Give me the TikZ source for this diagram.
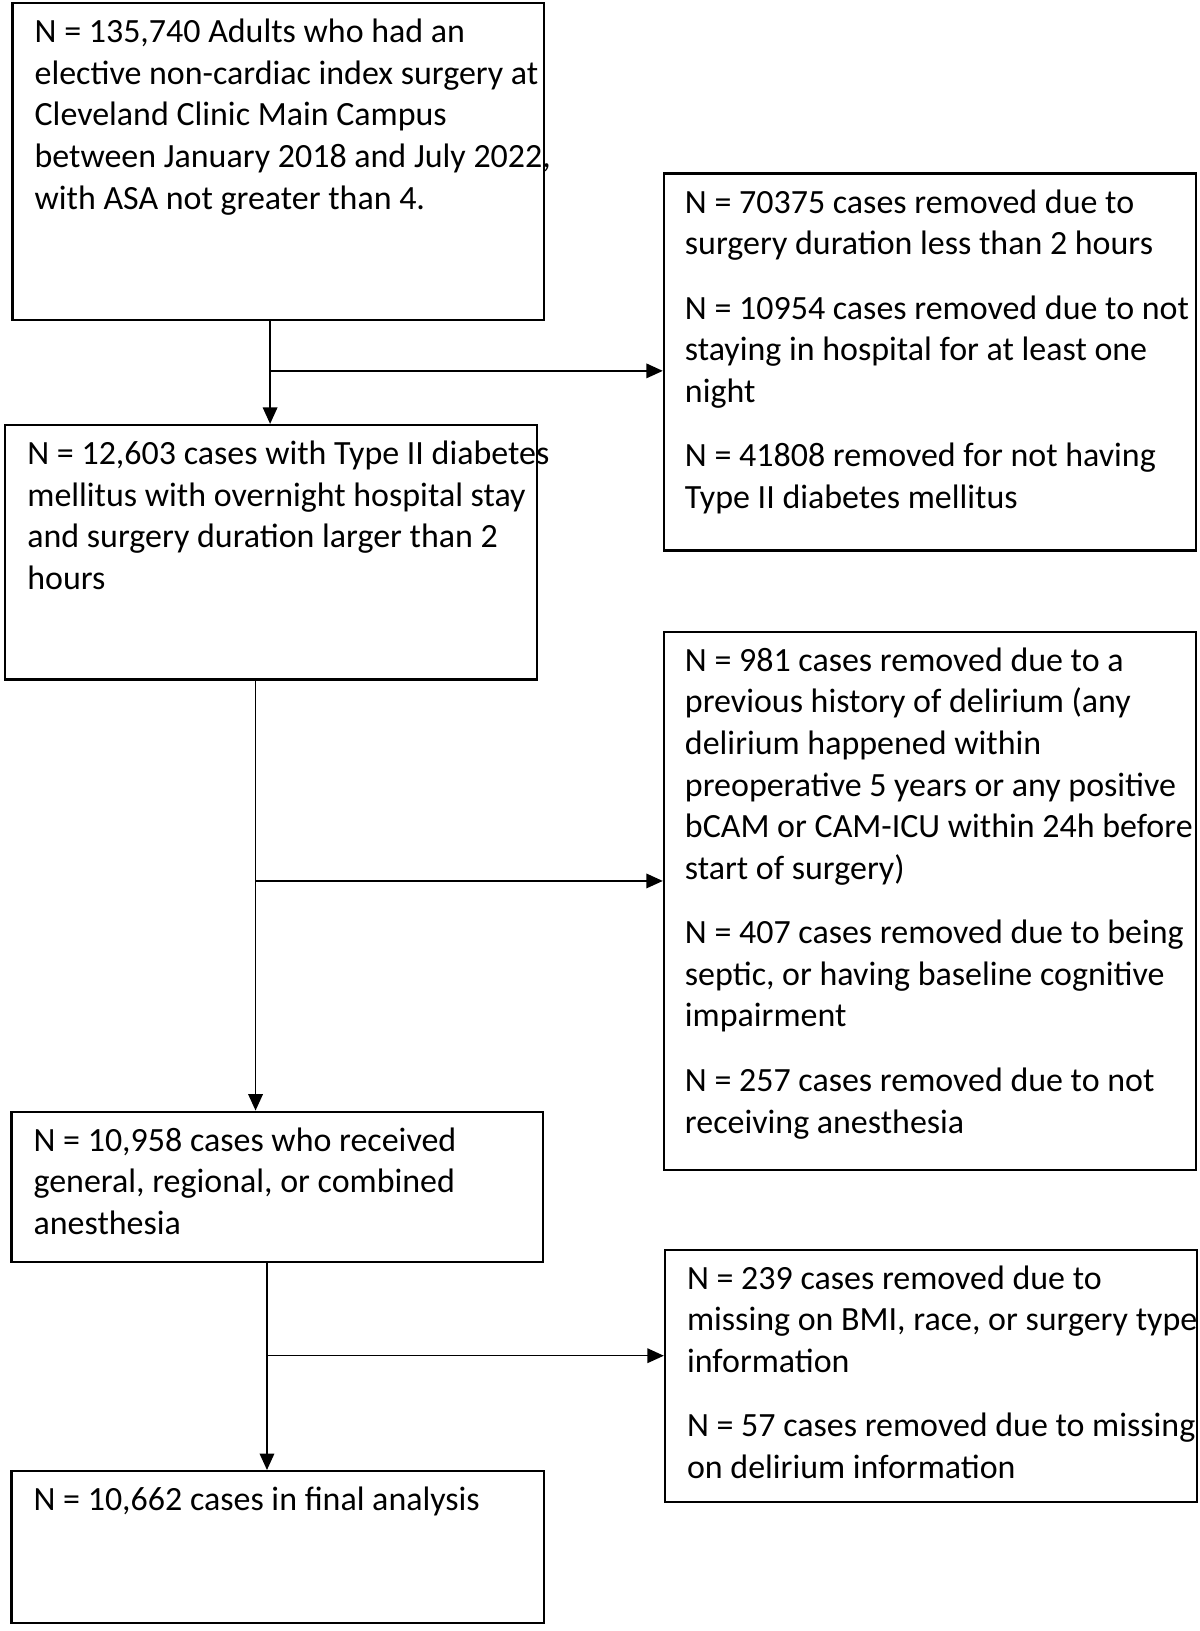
\documentclass[tikz,border=0pt]{standalone}
\usepackage{fontspec}
\setmainfont{Carlito}
\usetikzlibrary{positioning, arrows.meta}

\begin{document}
\begin{tikzpicture}[
  x=0.02cm, y=-0.02cm,
  mybox/.style={
     draw=black,
     line width=1.2pt,
     anchor=north west,
     inner sep=0pt},
  mytext/.style={
     anchor=north west,
     align=left,
     inner sep=0pt,
     font=\fontsize{18.6}{22.8}\selectfont},
  myarrow/.style={-{Triangle[length=9pt,width=8pt]}, line width=0.8pt}
  ]
  \useasboundingbox (0,0) rectangle (1155,1570);

  % main column
  \node[mybox, minimum width=10.24cm, minimum height=6.1cm] (b1) at (11,2) {};
  \node[mybox, minimum width=10.24cm, minimum height=4.9cm] (b2) at (4,408) {};
  \node[mybox, minimum width=10.24cm, minimum height=2.9cm] (b3) at (10,1069) {};
  \node[mybox, minimum width=10.26cm, minimum height=2.92cm] (b4) at (10,1415) {};

  \node[mytext] (t1) at (33,18) {N = 135,740 Adults who had an\\ elective non-cardiac index surgery at\\ Cleveland Clinic Main Campus\\ between January 2018 and July 2022,\\ with ASA not greater than 4.};
  \node[mytext] (t2) at (26,424) {N = 12,603 cases with Type II diabetes\\ mellitus with overnight hospital stay\\ and surgery duration larger than 2\\ hours};
  \node[mytext] (t3) at (32,1085) {N = 10,958 cases who received\\ general, regional, or combined\\ anesthesia};
  \node[mytext] (t4) at (32,1431) {N = 10,662 cases in final analysis};

  % exclusion boxes
  \node[mybox, minimum width=10.24cm, minimum height=7.26cm] (r1) at (638,166) {};
  \node[mybox, minimum width=10.24cm, minimum height=10.36cm] (r2) at (638,607) {};
  \node[mybox, minimum width=10.24cm, minimum height=4.86cm] (r3) at (639,1202) {};

  \node[mytext] (e1) at (659,182) {N = 70375 cases removed due to\\ surgery duration less than 2 hours\\[0.44cm]
    N = 10954 cases removed due to not\\ staying in hospital for at least one\\ night\\[0.44cm]
    N = 41808 removed for not having\\ Type II diabetes mellitus};
  \node[mytext] (e2) at (659,623) {N = 981 cases removed due to a\\ previous history of delirium (any\\ delirium happened within\\ preoperative 5 years or any positive\\ bCAM or CAM-ICU within 24h before\\ start of surgery)\\[0.44cm]
    N = 407 cases removed due to being\\ septic, or having baseline cognitive\\ impairment\\[0.44cm]
    N = 257 cases removed due to not\\ receiving anesthesia};
  \node[mytext] (e3) at (661,1218) {N = 239 cases removed due to\\ missing on BMI, race, or surgery type\\ information\\[0.44cm]
    N = 57 cases removed due to missing\\ on delirium information};

  % edges
  \coordinate (j1) at (260,357);
  \coordinate (j2) at (246,848);
  \coordinate (j3) at (257,1305);
  \draw[myarrow] (b1.south -| j1) -- (b2.north -| j1);
  \draw[myarrow] (j1) -- (r1.west |- j1);
  \draw[myarrow] (b2.south -| j2) -- (b3.north -| j2);
  \draw[myarrow] (j2) -- (r2.west |- j2);
  \draw[myarrow] (b3.south -| j3) -- (b4.north -| j3);
  \draw[myarrow] (j3) -- (r3.west |- j3);
\end{tikzpicture}
\end{document}
